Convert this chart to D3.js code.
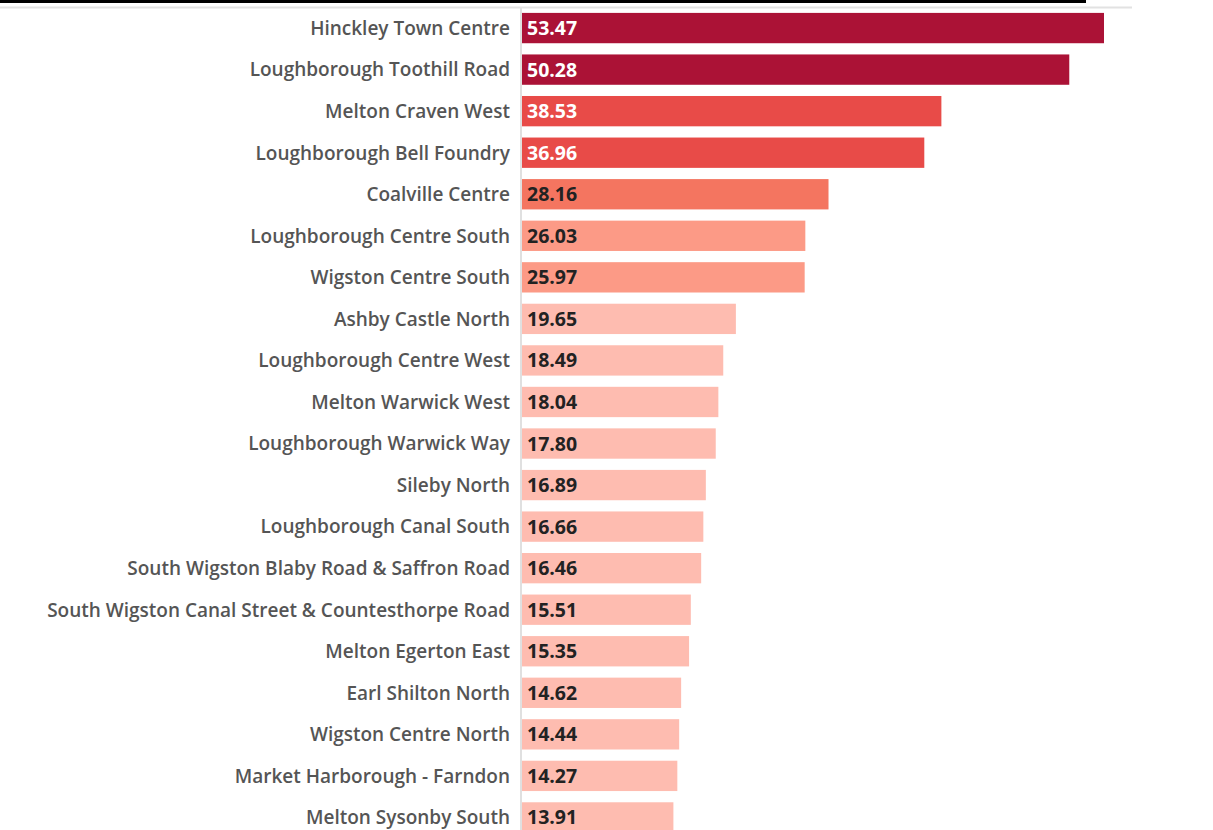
<!DOCTYPE html>
<html><head><meta charset="utf-8">
<script src="https://cdn.jsdelivr.net/npm/d3@7"></script>
<style>body{margin:0;background:#fff}svg{display:block}</style>
</head><body>
<svg id="c" width="1213" height="830"></svg>
<script>
const categories = ["Hinckley Town Centre","Loughborough Toothill Road","Melton Craven West","Loughborough Bell Foundry","Coalville Centre","Loughborough Centre South","Wigston Centre South","Ashby Castle North","Loughborough Centre West","Melton Warwick West","Loughborough Warwick Way","Sileby North","Loughborough Canal South","South Wigston Blaby Road & Saffron Road","South Wigston Canal Street & Countesthorpe Road","Melton Egerton East","Earl Shilton North","Wigston Centre North","Market Harborough - Farndon","Melton Sysonby South"];
const values = [53.47,50.28,38.53,36.96,28.16,26.03,25.97,19.65,18.49,18.04,17.80,16.89,16.66,16.46,15.51,15.35,14.62,14.44,14.27,13.91];
const colorThresholds = [20, 27, 35, 45];
const colorRange = ["#FEBCB0","#FC9A86","#F47560","#E84B48","#AB1236"];
const textThresholds = [35];
const textRange = ["#222222","#ffffff"];

const svg = d3.select("#c");
const x = d3.scaleLinear().domain([0, 53.47]).range([522, 1104]);
const y = d3.scaleBand().domain(categories).range([7.5, 838]).paddingInner(0.27).paddingOuter(0.13);
const color = d3.scaleThreshold().domain(colorThresholds).range(colorRange);
const tcol = d3.scaleThreshold().domain(textThresholds).range(textRange);
const data = categories.map((c,i)=>({c, v: values[i]}));

svg.append("rect").attr("x",0).attr("y",0).attr("width",1086).attr("height",3).attr("fill","#000");
svg.append("line").attr("x1",0).attr("x2",1132).attr("y1",7.5).attr("y2",7.5).attr("stroke","#e2e2e2").attr("stroke-width",2);

svg.selectAll("rect.bar").data(data).join("rect").attr("class","bar")
  .attr("x", x(0)).attr("y", d=>y(d.c)).attr("width", d=>x(d.v)-x(0)).attr("height", y.bandwidth())
  .attr("fill", d=>color(d.v));

svg.append("line").attr("x1",521).attr("x2",521).attr("y1",8).attr("y2",830).attr("stroke","#e0e0e0").attr("stroke-width",2);

const fam = "'Open Sans', 'Noto Sans', sans-serif";
svg.selectAll("text.lab").data(data).join("text").attr("class","lab")
  .attr("x", 510).attr("y", d=>y(d.c)+y.bandwidth()/2).attr("dy","0.36em")
  .attr("text-anchor","end").attr("font-family",fam).attr("font-weight",600).attr("font-size",19)
  .attr("fill","#555").text(d=>d.c);

svg.selectAll("text.val").data(data).join("text").attr("class","val")
  .attr("x", 527).attr("y", d=>y(d.c)+y.bandwidth()/2).attr("dy","0.36em")
  .attr("font-family",fam).attr("font-weight",700).attr("font-size",19.5)
  .attr("fill", d=>tcol(d.v)).text(d=>d3.format(".2f")(d.v));
</script>
</body></html>
